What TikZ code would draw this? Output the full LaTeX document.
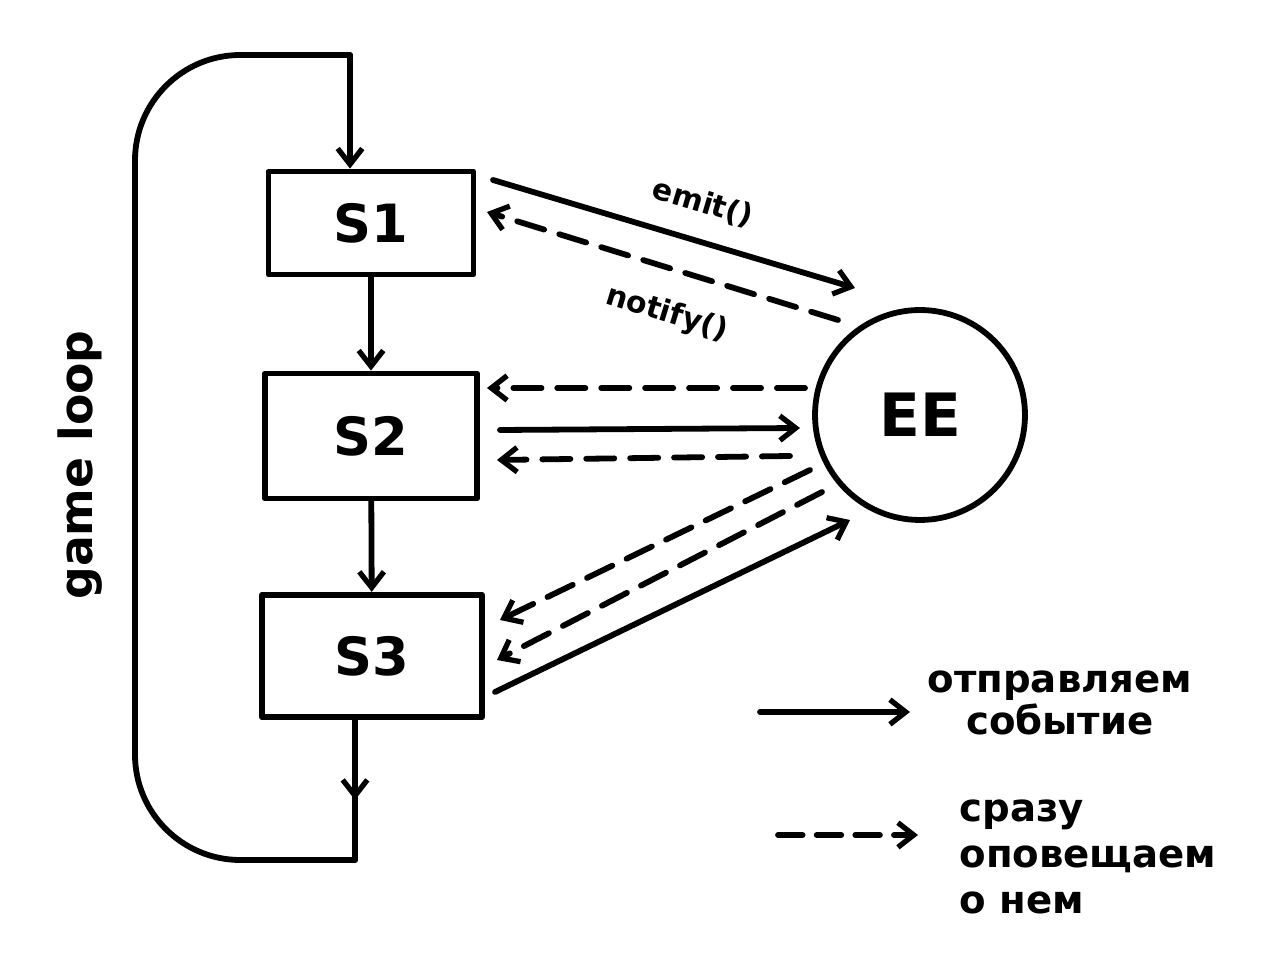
\documentclass[tikz,border=0pt]{standalone}
\usepackage{fontspec}
\setmainfont{DejaVu Sans}
\usetikzlibrary{arrows.meta}
\tikzset{
  pen/.style={line width=3.3pt,line cap=round,line join=round},
  arr/.style={pen,-{Straight Barb[length=9pt,width=14pt,line width=3pt]}},
  darr/.style={arr,dash pattern=on 16pt off 9pt},
  state/.style={pen,draw,minimum width=4.1cm,minimum height=2.2cm,font=\fontsize{30}{30}\selectfont\bfseries},
  lbl/.style={font=\fontsize{17}{17}\selectfont\bfseries}
}
\begin{document}
\begin{tikzpicture}[x=0.02cm,y=-0.02cm]
  \useasboundingbox (0,0) rectangle (1265,955);
  \node[state,minimum height=2.06cm] (s1) at (371,223) {S1};
  \node[state,minimum height=2.5cm,minimum width=4.25cm] (s2) at (371,436) {S2};
  \node[state,minimum height=2.45cm,minimum width=4.4cm] (s3) at (372,656) {S3};
  \node[pen,draw,circle,minimum size=4.2cm,font=\fontsize{34}{34}\selectfont\bfseries] (ee) at (920,415) {EE};
  % game loop
  \coordinate (top) at (350,55);
  \coordinate (bot) at (355,860);
  \draw[pen,rounded corners=60pt] (bot) -- (135,860) -- (135,55) -- (top);
  \draw[arr] (top) -- (s1.north -| top);
  \draw[arr] (s3.south -| bot) -- (355,800);
  \draw[pen] (355,795) -- (bot);
  \node[lbl,rotate=90,font=\fontsize{26}{26}\selectfont\bfseries] (gl) at (80,465) {game loop};
  \draw[arr] (s1) -- (s2);
  \draw[arr] (s2) -- (s3);
  % S1
  \coordinate (e1) at (855,288);
  \coordinate (e2) at (838,320);
  \draw[arr] (493,180) -- (e1) node[lbl,pos=0.55,above=9pt,sloped] {emit()};
  \draw[darr] (e2) -- (487,212) node[lbl,pos=0.45,below=12pt,sloped] {notify()};
  % S2
  \draw[darr] (805,388) -- (487,388);
  \draw[arr] (500,430) -- (800,428);
  \draw[darr] (790,456) -- (497,460);
  % S3
  \draw[darr] (810,470) -- (500,620);
  \draw[darr] (822,492) -- (497,660);
  \draw[arr] (495,692) -- (850,520);
  % legend
  \coordinate (l1) at (760,712);
  \coordinate (l2) at (910,712);
  \draw[arr] (l1) -- (l2);
  \node[lbl,align=center,font=\fontsize{22}{24}\selectfont\bfseries] (t1) at (1060,703) {отправляем\\событие};
  \coordinate (l3) at (778,835);
  \coordinate (l4) at (918,835);
  \draw[darr,dash pattern=on 14pt off 8pt] (l3) -- (l4);
  \node[lbl,align=left,font=\fontsize{22}{26}\selectfont\bfseries] (t2) at (1088,857) {сразу\\оповещаем\\о нем};
\end{tikzpicture}
\end{document}
